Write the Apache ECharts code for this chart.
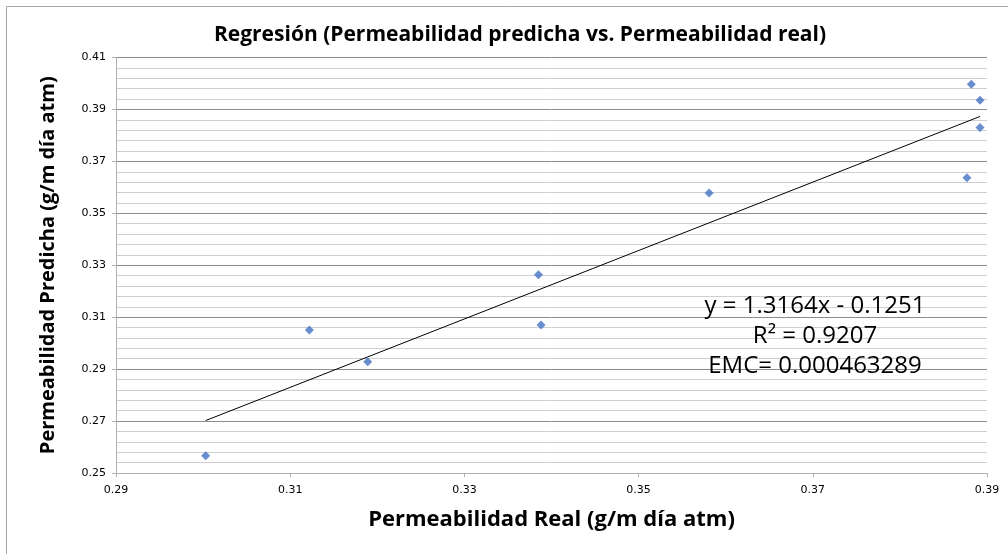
<!DOCTYPE html>
<html lang="es" style="height: 100%">
<head>
  <meta charset="utf-8">
</head>
<body style="height: 100%; margin: 0; background: #fff">
  <div id="container" style="width: 1008px; height: 554px"></div>
  <script type="text/javascript" src="https://cdn.jsdelivr.net/npm/echarts@6/dist/echarts.min.js"></script>
  <script type="text/javascript">
    // permeabilidad real (x) vs predicha (y)
    var realValues = [0.3003, 0.3122, 0.3189, 0.3385, 0.3388, 0.3581, 0.3882, 0.3892, 0.3892, 0.3877];
    var predValues = [0.2566, 0.3051, 0.2928, 0.3263, 0.3070, 0.3578, 0.3997, 0.3935, 0.3830, 0.3637];
    // extremos de la línea de tendencia
    var trendX = [0.3003, 0.3892];
    var trendY = [0.2702, 0.3873];
    var eqLines = ['y = 1.3164x - 0.1251', 'R² = 0.9207', 'EMC= 0.000463289'];

    var dom = document.getElementById('container');
    var myChart = echarts.init(dom, null, { renderer: 'canvas' });

    var points = realValues.map(function (x, i) { return [x, predValues[i]]; });
    var trend = trendX.map(function (x, i) { return [x, trendY[i]]; });

    var option = {
      animation: false,
      title: {
        text: 'Regresión (Permeabilidad predicha vs. Permeabilidad real)',
        left: 515,
        top: 20,
        textAlign: 'center',
        textStyle: { fontFamily: 'Open Sans', fontWeight: 'bold', fontSize: 21, color: '#000' }
      },
      grid: { left: 116, right: 21, top: 57.5, bottom: 81 },
      xAxis: {
        type: 'value',
        min: 0.29,
        max: 0.39,
        interval: 0.02,
        name: 'Permeabilidad Real (g/m día atm)',
        nameLocation: 'middle',
        nameGap: 36,
        nameTextStyle: { fontFamily: 'Open Sans', fontWeight: 'bold', fontSize: 22, color: '#000' },
        axisLine: { lineStyle: { color: '#b0b0b0', width: 1 } },
        axisTick: { show: true, length: 4, lineStyle: { color: '#b0b0b0' } },
        axisLabel: {
          fontFamily: 'DejaVu Sans', fontSize: 11, color: '#000', margin: 12,
          formatter: function (v) { return v.toFixed(2); }
        },
        splitLine: { show: false }
      },
      yAxis: {
        type: 'value',
        min: 0.25,
        max: 0.41,
        interval: 0.02,
        name: 'Permeabilidad Predicha (g/m día atm)',
        nameLocation: 'middle',
        nameGap: 58,
        nameTextStyle: { fontFamily: 'Open Sans', fontWeight: 'bold', fontSize: 20, color: '#000' },
        axisLine: { show: true, lineStyle: { color: '#b0b0b0', width: 1 } },
        axisTick: { show: true, length: 4, lineStyle: { color: '#b0b0b0' } },
        axisLabel: {
          fontFamily: 'DejaVu Sans', fontSize: 11, color: '#000', margin: 10,
          formatter: function (v) { return v.toFixed(2); }
        },
        splitLine: { show: true, lineStyle: { color: '#8c8c8c', width: 1 } },
        minorTick: { show: false, splitNumber: 5 },
        minorSplitLine: { show: true, lineStyle: { color: '#cfcfcf', width: 1 } }
      },
      series: [
        {
          name: 'Tendencia',
          type: 'line',
          data: trend,
          symbol: 'none',
          silent: true,
          lineStyle: { color: '#000', width: 1 },
          z: 2
        },
        {
          name: 'Datos',
          type: 'scatter',
          data: points,
          symbol: 'diamond',
          symbolSize: 9,
          itemStyle: { color: '#4472c4' },
          z: 3
        }
      ],
      graphic: [
        {
          type: 'rect',
          shape: { x: 6.5, y: 6.5, width: 1020, height: 570 },
          style: { fill: 'none', stroke: '#a6a6a6', lineWidth: 1 },
          silent: true,
          z: -1
        },
        {
          type: 'text',
          x: 815,
          y: 336,
          style: {
            text: eqLines.join('\n'),
            fontFamily: 'Open Sans',
            fontSize: 24,
            lineHeight: 30,
            fill: '#000',
            align: 'center',
            verticalAlign: 'middle'
          },
          z: 10
        }
      ]
    };

    myChart.setOption(option);
    window.addEventListener('resize', myChart.resize);
  </script>
</body>
</html>
